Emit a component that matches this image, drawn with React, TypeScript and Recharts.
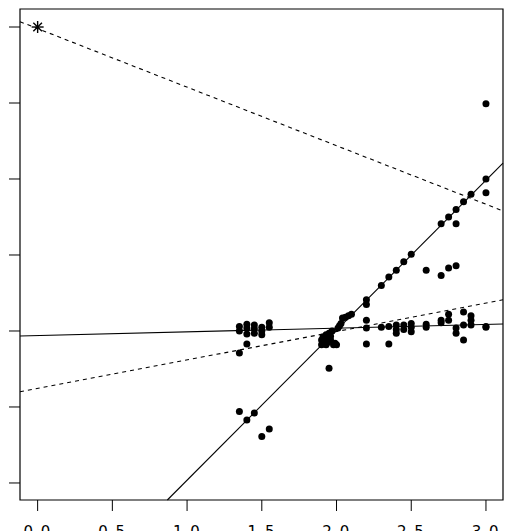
import React from 'react';
import { ScatterChart, Scatter, XAxis, YAxis, ReferenceLine, ReferenceArea } from 'recharts';

// observed points
const pointsX = [
  1.35, 1.35, 1.35, 1.35,
  1.40, 1.40, 1.40, 1.40, 1.40,
  1.45, 1.45, 1.45, 1.45,
  1.50, 1.50, 1.50, 1.50,
  1.55, 1.55, 1.55,
  1.90, 1.90, 1.91, 1.92, 1.93, 1.93, 1.94, 1.95, 1.96, 1.97, 1.98, 2.00, 2.01, 2.03, 2.04, 2.06, 2.08, 2.10, 1.95,
  1.91, 1.94, 1.96, 1.99, 2.02,
  2.20, 2.20, 2.20, 2.20, 2.20,
  2.30, 2.30, 2.35, 2.35, 2.35,
  2.40, 2.40, 2.40, 2.40, 2.45, 2.45, 2.45,
  2.50, 2.50, 2.50, 2.50,
  2.60, 2.60, 2.60,
  2.70, 2.70, 2.70, 2.70,
  2.75, 2.75, 2.75, 2.75,
  2.80, 2.80, 2.80, 2.80, 2.80,
  2.85, 2.85, 2.85, 2.85,
  2.90, 2.90, 2.90, 2.90,
  3.00, 3.00, 3.00, 3.00, 3.00,
];
const pointsY = [
  2.06, 2.00, 1.71, 0.94,
  2.09, 2.04, 1.96, 1.83, 0.83,
  2.08, 2.03, 1.97, 0.92,
  2.05, 2.00, 1.95, 0.61,
  2.11, 2.05, 0.71,
  1.82, 1.88, 1.92, 1.86, 1.95, 1.82, 1.90, 1.97, 1.93, 2.00, 1.82, 1.82, 2.04, 2.10, 2.17, 2.18, 2.20, 2.22, 1.51,
  1.85, 1.85, 1.88, 1.84, 2.07,
  2.41, 2.35, 2.14, 2.04, 1.83,
  2.60, 2.05, 2.71, 2.06, 1.83,
  2.80, 2.08, 2.02, 1.97, 2.91, 2.08, 2.02,
  3.01, 2.10, 2.05, 1.99,
  2.80, 2.09, 2.05,
  3.41, 2.73, 2.14, 2.11,
  3.50, 2.83, 2.22, 2.14,
  3.60, 3.41, 2.86, 2.04, 1.97,
  3.70, 2.25, 2.08, 1.88,
  3.80, 2.20, 2.14, 2.08,
  4.99, 4.00, 3.82, 2.06, 2.05,
];
const starPoint = [{ x: 0, y: 6 }];

// fitted lines: [x1, y1, x2, y2]
const solidLines = [
  [-0.118, 1.934, 3.114, 2.092],
  [0.868, -0.224, 3.114, 4.21],
];
const dashedLines = [
  [-0.118, 6.07, 3.114, 3.58],
  [-0.118, 1.201, 3.114, 2.41],
];

const xTicks = [0, 0.5, 1, 1.5, 2, 2.5, 3];
const yTicks = [0, 1, 2, 3, 4, 5, 6];
const xDomain = [-0.118, 3.114];
const yDomain = [-0.224, 6.237];

const data = pointsX.map((x, i) => ({ x, y: pointsY[i] }));

const Dot = (props: any) => <circle cx={props.cx} cy={props.cy} r={3.5} fill="#000" />;

const Star = (props: any) => {
  const { cx, cy } = props;
  const a = 6;
  const b = 4.3;
  return (
    <g stroke="#000" strokeWidth={1.4}>
      <line x1={cx - a} y1={cy} x2={cx + a} y2={cy} />
      <line x1={cx} y1={cy - a} x2={cx} y2={cy + a} />
      <line x1={cx - b} y1={cy - b} x2={cx + b} y2={cy + b} />
      <line x1={cx - b} y1={cy + b} x2={cx + b} y2={cy - b} />
    </g>
  );
};

export default function App() {
  return (
    <div style={{ position: 'absolute', left: 0, top: 0 }}>
      <ScatterChart width={507} height={531} margin={{ top: 9, right: 4, bottom: 0, left: 0 }}>
        <XAxis
          type="number"
          dataKey="x"
          domain={xDomain}
          ticks={xTicks}
          allowDataOverflow
          tickFormatter={(v: number) => v.toFixed(1)}
          axisLine={false}
          tickSize={11}
          tickMargin={15}
          height={31}
          tickLine={{ stroke: '#000' }}
          tick={{ fill: '#000', fontSize: 15, fontFamily: 'DejaVu Sans', letterSpacing: 1.5 }}
        />
        <YAxis
          type="number"
          dataKey="y"
          domain={yDomain}
          ticks={yTicks}
          allowDataOverflow
          width={20}
          axisLine={false}
          tickSize={11}
          tickLine={{ stroke: '#000' }}
          tickFormatter={() => ''}
        />
        <ReferenceArea
          x1={xDomain[0]}
          x2={xDomain[1]}
          y1={yDomain[0]}
          y2={yDomain[1]}
          fill="none"
          stroke="#000"
          strokeWidth={1.2}
          ifOverflow="visible"
        />
        {solidLines.map((l, i) => (
          <ReferenceLine
            key={'s' + i}
            segment={[{ x: l[0], y: l[1] }, { x: l[2], y: l[3] }]}
            stroke="#000"
            strokeWidth={1.1}
            ifOverflow="visible"
          />
        ))}
        {dashedLines.map((l, i) => (
          <ReferenceLine
            key={'d' + i}
            segment={[{ x: l[0], y: l[1] }, { x: l[2], y: l[3] }]}
            stroke="#000"
            strokeWidth={1.1}
            strokeDasharray="4 4"
            ifOverflow="visible"
          />
        ))}
        <Scatter data={data} shape={Dot} isAnimationActive={false} />
        <Scatter data={starPoint} shape={Star} isAnimationActive={false} />
      </ScatterChart>
    </div>
  );
}
